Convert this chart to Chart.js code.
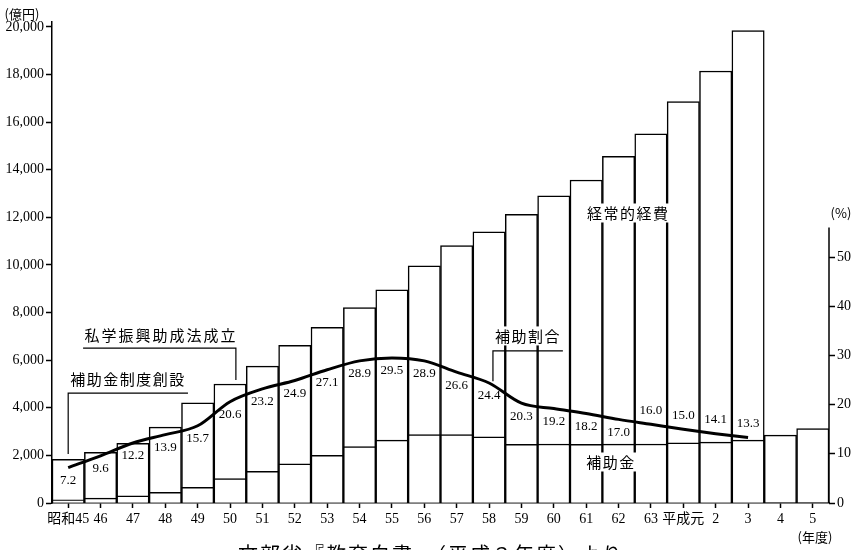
<!DOCTYPE html>
<html>
<head>
<meta charset="utf-8">
<script src="https://cdn.jsdelivr.net/npm/chart.js@4.4.1/dist/chart.umd.min.js"></script>
<style>
  html, body { margin: 0; padding: 0; background: #fff; }
  #wrap { width: 857px; height: 550px; }
</style>
</head>
<body>
<div id="wrap"><canvas id="c"></canvas></div>
<script>
const categories = ['昭和45', '46', '47', '48', '49', '50', '51', '52', '53', '54', '55', '56',
  '57', '58', '59', '60', '61', '62', '63', '平成元', '2', '3', '4', '5']

// 経常的経費 (億円)
const keijouhi = [1840, 2130, 2510, 3190, 4210, 5000, 5750, 6620, 7380, 8210, 8960, 9960,
  10820, 11390, 12130, 12910, 13570, 14570, 15510, 16870, 18150, 19850, null, null]

// 補助金 (億円)
const hojokin = [135, 205, 305, 445, 660, 1030, 1335, 1650, 2000, 2375, 2645, 2880,
  2880, 2780, 2465, 2480, 2470, 2475, 2480, 2530, 2560, 2640, 2850, 3130]

// 補助割合 (%)
const hojoWariai = [7.2, 9.6, 12.2, 13.9, 15.7, 20.6, 23.2, 24.9, 27.1, 28.9, 29.5, 28.9,
  26.6, 24.4, 20.3, 19.2, 18.2, 17.0, 16.0, 15.0, 14.1, 13.3, null, null]

const leftTicks = [0, 2000, 4000, 6000, 8000, 10000, 12000, 14000, 16000, 18000, 20000]
const rightTicks = [0, 10, 20, 30, 40, 50]

const SERIF = '"Liberation Serif", "Noto Sans CJK JP", serif'
const JP = '"Noto Sans CJK JP", sans-serif'
const LABEL_ABOVE_FROM = 18 // 63年度以降は線の上にラベル

function text(ctx, str, x, y, size, spacing, bg) {
  ctx.font = `${size}px ${JP}`
  ctx.letterSpacing = spacing + 'px'
  ctx.textAlign = 'center'
  ctx.textBaseline = 'middle'
  if (bg) {
    const w = ctx.measureText(str).width
    ctx.fillStyle = '#fff'
    ctx.fillRect(x - w / 2 - 3, y - size / 2 - 2, w + 6, size + 4)
  }
  ctx.fillStyle = '#000'
  ctx.fillText(str, x, y)
  ctx.letterSpacing = '0px'
}

function seg(ctx, pts) {
  ctx.beginPath()
  ctx.moveTo(pts[0][0], pts[0][1])
  for (let i = 1; i < pts.length; i++) ctx.lineTo(pts[i][0], pts[i][1])
  ctx.stroke()
}

const decor = {
  id: 'decor',
  afterDatasetsDraw(chart) {
    const { ctx, chartArea } = chart
    const { x, y, y2 } = chart.scales
    const X = (c) => x.getPixelForValue(c)
    const Y = (v) => y.getPixelForValue(v)
    ctx.save()
    ctx.strokeStyle = '#000'
    ctx.lineWidth = 1.5

    // right axis line (only up to ~56%)
    seg(ctx, [[chartArea.right, y2.getPixelForValue(0)], [chartArea.right, y2.getPixelForValue(56)]])

    // percentage labels
    const meta = chart.getDatasetMeta(0)
    ctx.font = `13px ${SERIF}`
    ctx.textAlign = 'center'
    ctx.textBaseline = 'middle'
    ctx.fillStyle = '#000'
    meta.data.forEach((pt, i) => {
      if (hojoWariai[i] == null) return
      const dy = i >= LABEL_ABOVE_FROM ? -14 : 13
      ctx.fillText(hojoWariai[i].toFixed(1), pt.x, pt.y + dy)
    })

    // leaders
    ctx.lineWidth = 1.2
    seg(ctx, [[X(0), Y(2060)], [X(0), Y(4620)], [X(3.7), Y(4620)]])
    seg(ctx, [[X(0.46), Y(6510)], [X(5.18), Y(6510)], [X(5.18), Y(5170)]])
    seg(ctx, [[X(15.28), Y(6390)], [X(13.12), Y(6390)], [X(13.12), Y(5120)]])

    text(ctx, '補助金制度創設', X(1.85), Y(5210), 15, 1.5, false)
    text(ctx, '私学振興助成法成立', X(2.87), Y(7060), 15, 2, false)
    text(ctx, '補助割合', X(14.2), Y(7020), 15, 1.5, true)
    text(ctx, '経常的経費', X(17.3), Y(12185), 15, 1.5, true)
    text(ctx, '補助金', X(16.77), Y(1723), 15, 1.5, true)

    // unit labels
    text(ctx, '(億円)', 22, 14, 13, 0, false)
    text(ctx, '(%)', chartArea.right + 12, y2.getPixelForValue(59), 13, 0, false)
    text(ctx, '(年度)', 815, 537, 13, 0, false)

    // source line (cut off at bottom edge)
    ctx.font = `20px ${JP}`
    ctx.letterSpacing = '2px'
    ctx.textAlign = 'left'
    ctx.textBaseline = 'top'
    ctx.fillText('文部省『教育白書』（平成３年度）より', 238, 544)
    ctx.restore()
  },
}

const axisGrid = {
  drawOnChartArea: false,
  drawTicks: true,
  tickLength: 6,
  tickColor: '#000',
  tickWidth: 1.5,
}

new Chart(document.getElementById('c'), {
  type: 'bar',
  data: {
    labels: categories,
    datasets: [
      {
        type: 'line',
        label: '補助割合',
        data: hojoWariai,
        yAxisID: 'y2',
        borderColor: '#000',
        borderWidth: 3,
        pointRadius: 0,
        cubicInterpolationMode: 'monotone',
        order: 0,
      },
      {
        label: '補助金',
        data: hojokin,
        yAxisID: 'y',
        backgroundColor: '#fff',
        borderColor: '#000',
        borderWidth: 1.5,
        barPercentage: 1,
        categoryPercentage: 1,
        order: 1,
      },
      {
        label: '経常的経費',
        data: keijouhi,
        yAxisID: 'y',
        backgroundColor: '#fff',
        borderColor: '#000',
        borderWidth: 1.5,
        barPercentage: 1,
        categoryPercentage: 1,
        order: 2,
      },
    ],
  },
  options: {
    responsive: true,
    maintainAspectRatio: false,
    animation: false,
    layout: { padding: { top: 22, left: 0, right: 0, bottom: 0 } },
    plugins: { legend: { display: false }, tooltip: { enabled: false } },
    scales: {
      x: {
        stacked: true,
        grid: { ...axisGrid, offset: false, tickLength: 5 },
        border: { display: true, color: '#000', width: 1.5 },
        ticks: { autoSkip: false, maxRotation: 0, color: '#000', padding: 3, font: { family: SERIF, size: 14 } },
        afterFit: (s) => { s.height = 47 },
      },
      y: {
        position: 'left',
        min: 0,
        max: 20210,
        grid: axisGrid,
        border: { display: true, color: '#000', width: 1.5 },
        ticks: {
          color: '#000',
          padding: 2,
          font: { family: SERIF, size: 14 },
          callback: (v) => v.toLocaleString('en-US'),
        },
        afterBuildTicks: (s) => { s.ticks = leftTicks.map((v) => ({ value: v })) },
        afterFit: (s) => { s.width = 52 },
      },
      y2: {
        position: 'right',
        min: 0,
        max: 97.8,
        grid: axisGrid,
        border: { display: false },
        ticks: { color: '#000', padding: 2, font: { family: SERIF, size: 14 } },
        afterBuildTicks: (s) => { s.ticks = rightTicks.map((v) => ({ value: v })) },
        afterFit: (s) => { s.width = 28 },
      },
    },
  },
  plugins: [decor],
})
</script>
</body>
</html>
